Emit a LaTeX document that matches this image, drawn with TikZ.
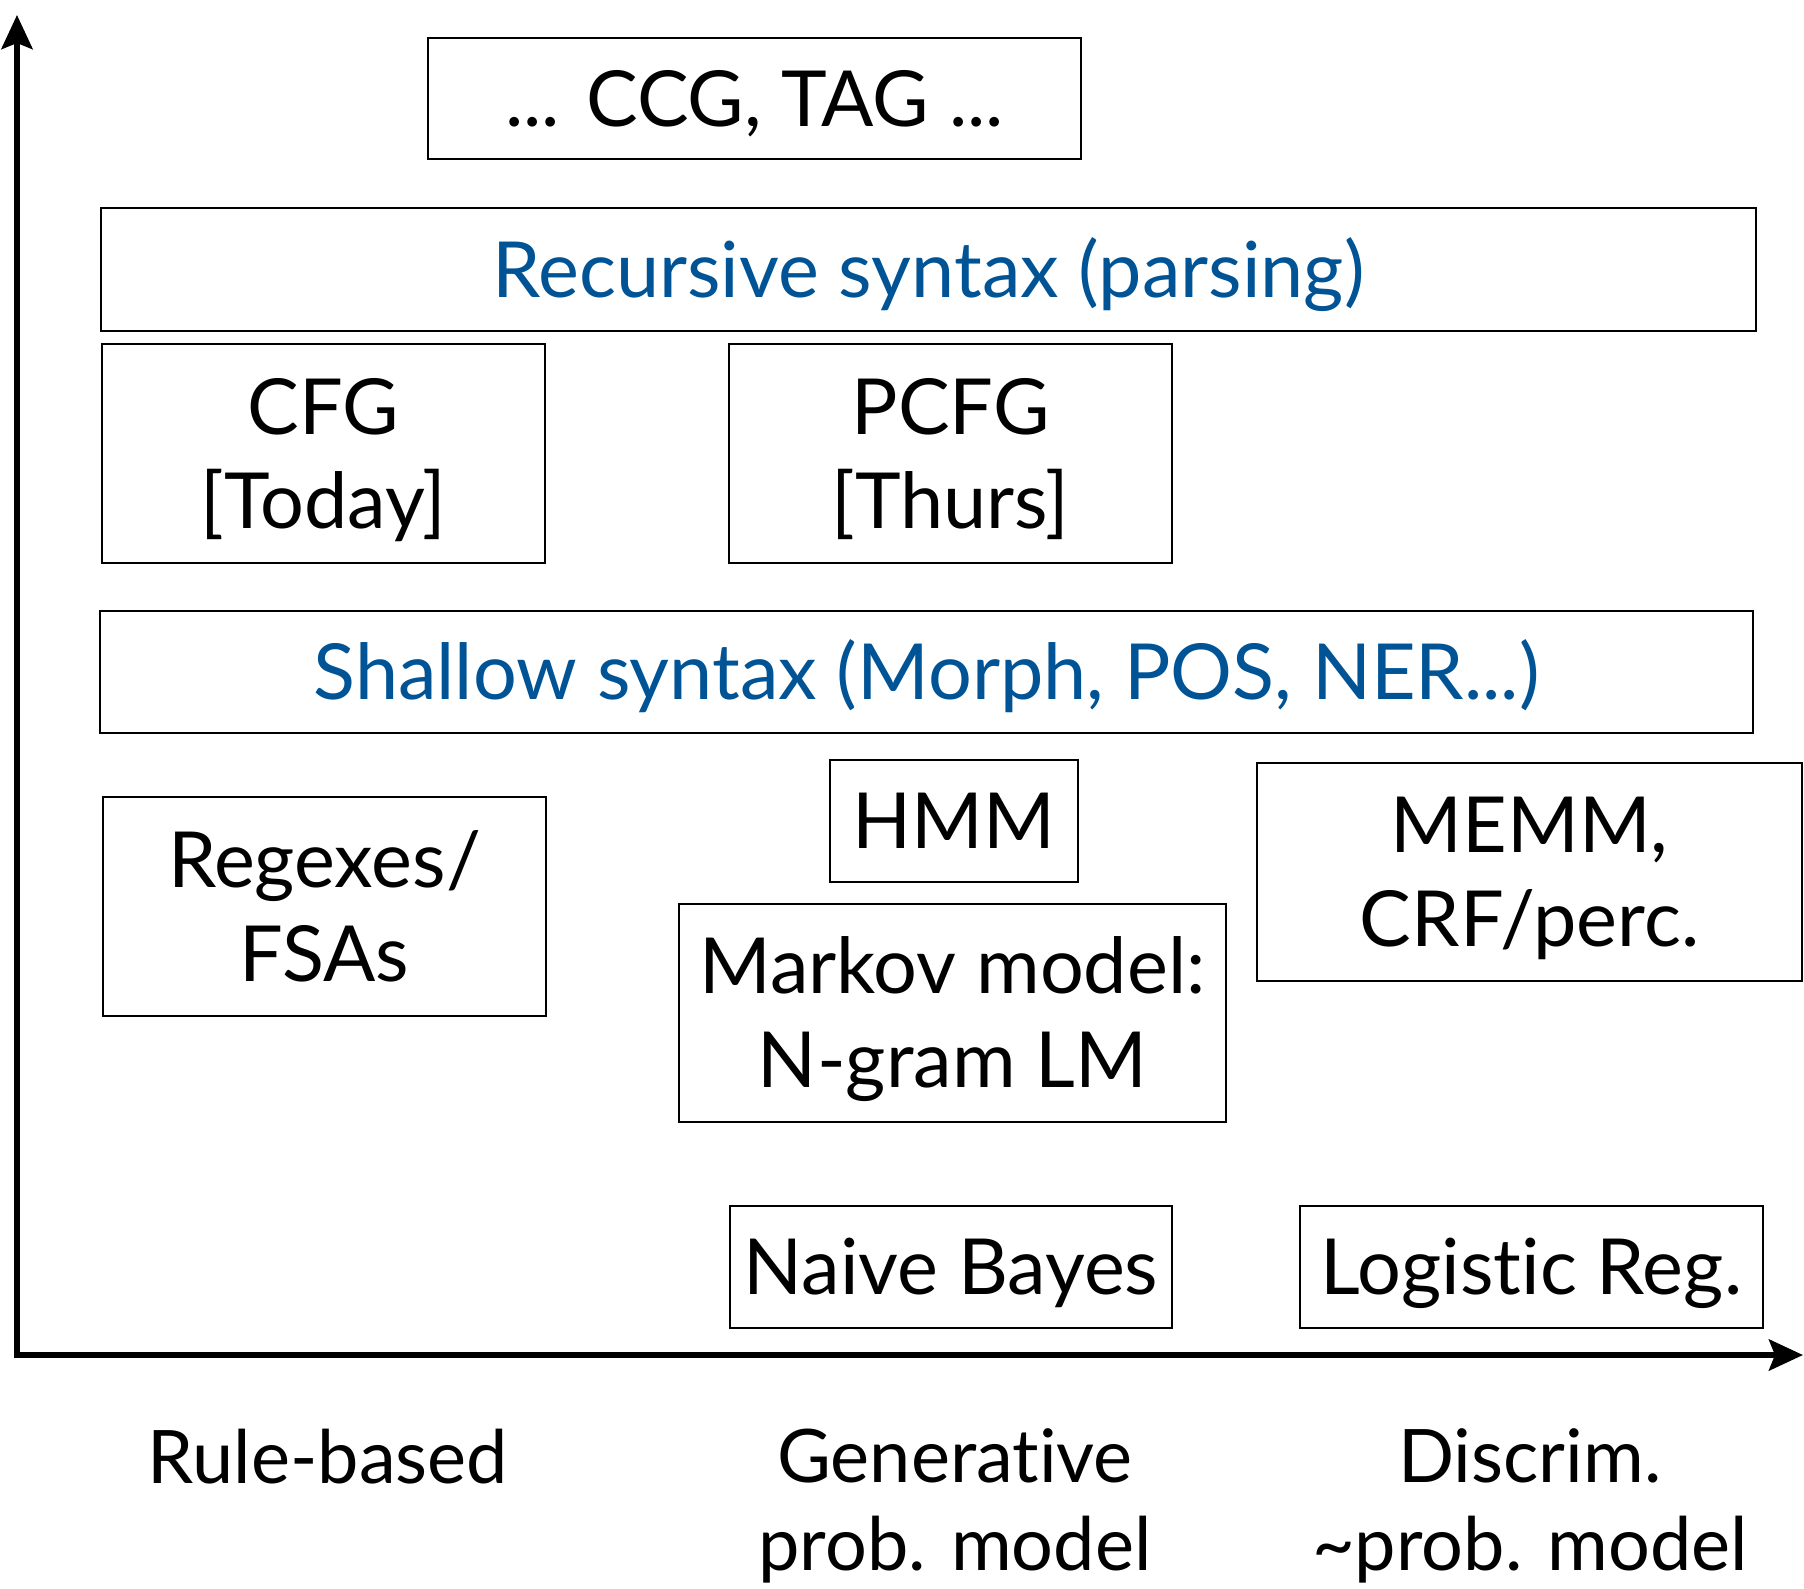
\documentclass[tikz,border=0pt]{standalone}
\usepackage{fontspec}
\setmainfont{Lato}[Ligatures=NoCommon]
\usetikzlibrary{arrows.meta}
\definecolor{slideblue}{RGB}{0,84,150}
\tikzset{
  box/.style={draw, line width=0.75pt, inner sep=0pt, align=center,
    font=\fontsize{22}{26.7}\selectfont},
  oneline/.style={text height=15.8pt, text depth=0pt},
  twoline/.style={text height=42.5pt, text depth=0pt},
  axislabel/.style={align=center, font=\fontsize{21}{25}\selectfont},
  axisline/.style={line width=1.7pt,
    {Stealth[length=0.34cm,width=0.31cm,inset=0.06cm]}-{Stealth[length=0.34cm,width=0.31cm,inset=0.06cm]}}
}
\begin{document}
\begin{tikzpicture}[x=0.01cm,y=-0.01cm]
  \useasboundingbox (0,0) rectangle (1804,1588);
  % axes
  \coordinate (ytip) at (17,15);
  \coordinate (origin) at (17,1355);
  \coordinate (xtip) at (1803,1355);
  \draw[axisline] (ytip) -- (origin) -- (xtip);
  % one-line boxes: name/x/y/width/height/colour/text
  \foreach \nm/\cx/\cy/\w/\h/\col/\txt in {%
      ccg/754.5/98.5/653/121/black/{... CCG, TAG ...},%
      recur/928.5/269.5/1655/123/slideblue/{Recursive syntax (parsing)},%
      shallow/926.5/672/1653/122/slideblue/{Shallow syntax (Morph, POS, NER...)},%
      hmm/954/821/248/122/black/{HMM},%
      naive/951/1267/442/122/black/{Naive Bayes},%
      logit/1531.5/1267/463/122/black/{Logistic Reg.}}{
    \node[box, oneline, text=\col, minimum width=\w*0.01cm, minimum height=\h*0.01cm] (\nm) at (\cx,\cy) {\txt};
  }
  % two-line boxes
  \foreach \nm/\cx/\cy/\w/\h/\txt in {%
      cfg/323.5/453.5/443/219/{CFG\\{}[Today]},%
      pcfg/950.5/453.5/443/219/{PCFG\\{}[Thurs]},%
      memm/1529.5/872/545/218/{MEMM,\\CRF/perc.},%
      regex/324.5/906.5/443/219/{Regexes/\\FSAs},%
      markov/952.5/1013/547/218/{Markov model:\\N-gram LM}}{
    \node[box, twoline, minimum width=\w*0.01cm, minimum height=\h*0.01cm] (\nm) at (\cx,\cy) {\txt};
  }
  % x axis labels
  \node[axislabel, anchor=base] (rule) at (328,1483) {Rule-based};
  \node[axislabel, anchor=base] (gen) at (955,1570) {Generative\\prob. model};
  \node[axislabel, anchor=base] (disc) at (1530,1570) {Discrim.\\\textasciitilde prob. model};
\end{tikzpicture}
\end{document}
